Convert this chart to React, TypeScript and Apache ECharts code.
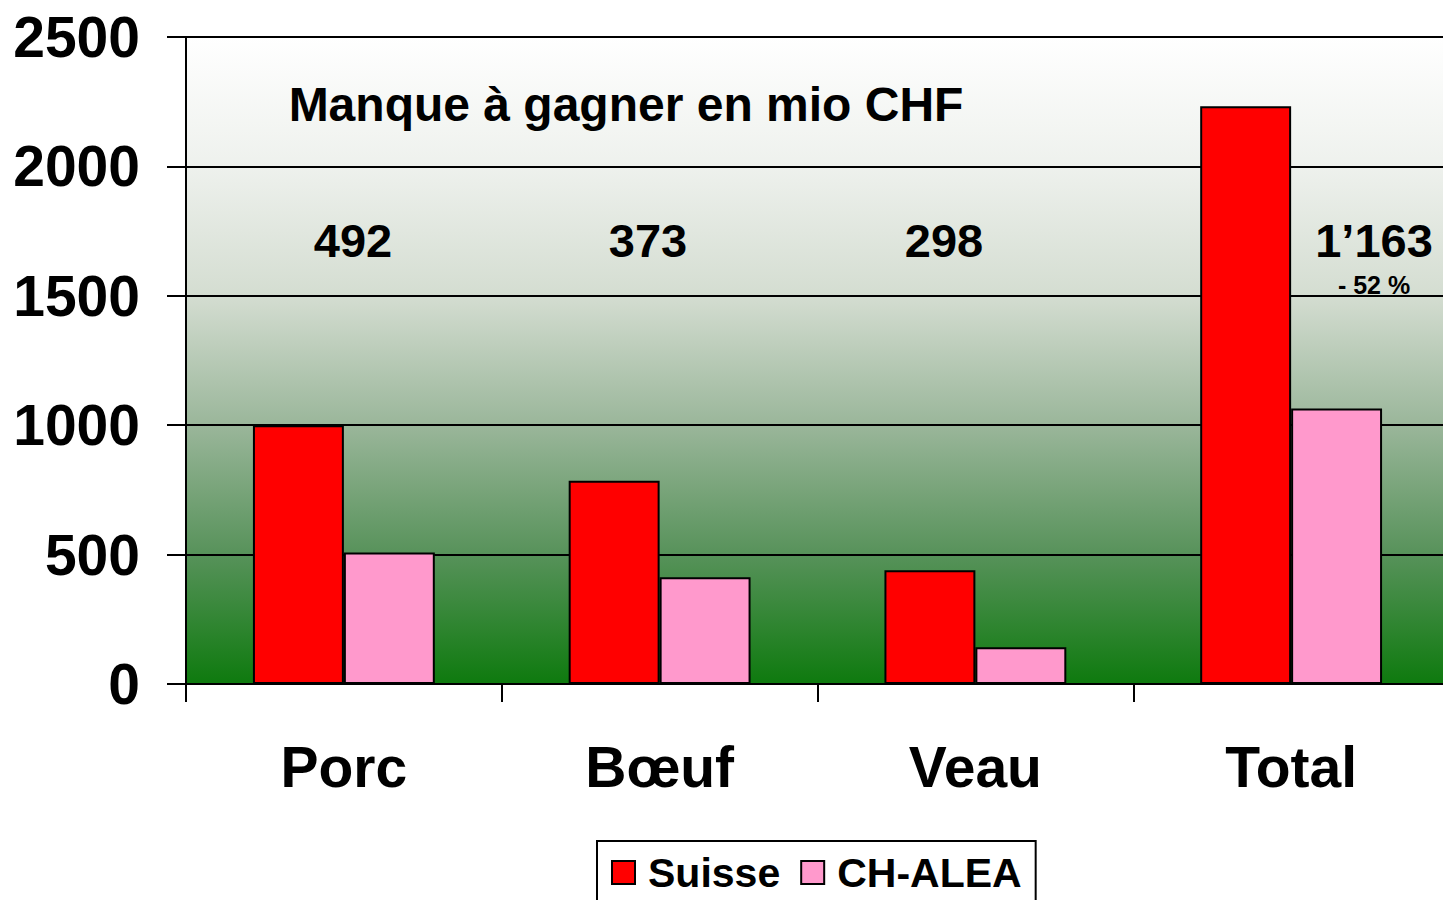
import React, { useEffect, useRef } from "react";
import * as echarts from "echarts";

const categories = ["Porc", "Bœuf", "Veau", "Total"];
const suisseValues = [1000, 785, 440, 2232];
const alesValues = [508, 412, 142, 1065];
const gapLabels = ["492", "373", "298", "1’163"];
const gapPct = "- 52 %";
const yTicks = { min: 0, max: 2500, interval: 500 };
const titleText = "Manque à gagner en mio CHF";

const FONT = "'Liberation Sans', Arial, Helvetica, sans-serif";

export default function App() {
  const ref = useRef<HTMLDivElement>(null);
  useEffect(() => {
    if (!ref.current) return;
    const chart = echarts.init(ref.current, undefined, { renderer: "svg" });
    const gapX = [353, 648, 944, 1374];
    const option: any = {
      animation: false,
      backgroundColor: "#ffffff",
      grid: {
        left: 186,
        right: -6,
        top: 37,
        bottom: 216,
        containLabel: false,
        outerBoundsMode: "none",
        show: true,
        borderWidth: 0,
        backgroundColor: new echarts.graphic.LinearGradient(0, 0, 0, 1, [
          { offset: 0, color: "#ffffff" },
          { offset: 0.2, color: "#eef1ed" },
          { offset: 0.4, color: "#d4ddd1" },
          { offset: 0.6, color: "#9ab69a" },
          { offset: 0.8, color: "#57925a" },
          { offset: 1, color: "#0e7a0e" },
        ]),
      },
      legend: {
        left: 597,
        top: 841,
        orient: "horizontal",
        borderColor: "#000",
        borderWidth: 2,
        padding: [11, 14, 40, 14],
        itemWidth: 23,
        itemHeight: 23,
        itemGap: 20,
        icon: "rect",
        itemStyle: { borderColor: "#000", borderWidth: 2 },
        textStyle: {
          fontFamily: FONT,
          fontWeight: "bold",
          fontSize: 41,
          color: "#000",
          padding: [0, 0, 0, 8],
        },
        data: ["Suisse", "CH-ALEA"],
      },
      xAxis: {
        type: "category",
        data: categories,
        boundaryGap: true,
        axisLine: { show: true, lineStyle: { color: "#000", width: 2 } },
        axisTick: { show: true, length: 18, lineStyle: { color: "#000", width: 2 } },
        axisLabel: {
          margin: 54,
          fontFamily: FONT,
          fontWeight: "bold",
          fontSize: 57,
          color: "#000",
        },
      },
      yAxis: {
        type: "value",
        min: yTicks.min,
        max: yTicks.max,
        interval: yTicks.interval,
        axisLine: { show: true, lineStyle: { color: "#000", width: 2 } },
        axisTick: { show: true, length: 19, lineStyle: { color: "#000", width: 2 } },
        splitLine: { show: true, lineStyle: { color: "#000", width: 2 } },
        axisLabel: {
          margin: 46,
          fontFamily: FONT,
          fontWeight: "bold",
          fontSize: 57,
          color: "#000",
          formatter: (v: number) => String(v),
        },
      },
      series: [
        {
          name: "Suisse",
          type: "bar",
          data: suisseValues,
          barGap: "0%",
          barCategoryGap: "42.4%",
          itemStyle: { color: "#ff0000", borderColor: "#000", borderWidth: 2 },
        },
        {
          name: "CH-ALEA",
          type: "bar",
          data: alesValues,
          barGap: "0%",
          barCategoryGap: "42.4%",
          itemStyle: { color: "#ff99cc", borderColor: "#000", borderWidth: 2 },
        },
      ],
      graphic: [
        {
          type: "text",
          x: 626,
          y: 104,
          style: {
            text: titleText,
            fontFamily: FONT,
            fontWeight: "bold",
            fontSize: 48,
            fill: "#000",
            textAlign: "center",
            textVerticalAlign: "middle",
          },
        },
        ...gapLabels.map((t, i) => ({
          type: "text",
          x: gapX[i],
          y: 240,
          style: {
            text: t,
            fontFamily: FONT,
            fontWeight: "bold",
            fontSize: 47,
            fill: "#000",
            textAlign: "center",
            textVerticalAlign: "middle",
          },
        })),
        {
          type: "text",
          x: 1374,
          y: 285,
          style: {
            text: gapPct,
            fontFamily: FONT,
            fontWeight: "bold",
            fontSize: 25,
            fill: "#000",
            textAlign: "center",
            textVerticalAlign: "middle",
          },
        },
      ],
    };
    chart.setOption(option);
    return () => chart.dispose();
  }, []);
  return (
    <div
      ref={ref}
      style={{ position: "absolute", left: 0, top: 0, width: 1443, height: 900 }}
    />
  );
}
